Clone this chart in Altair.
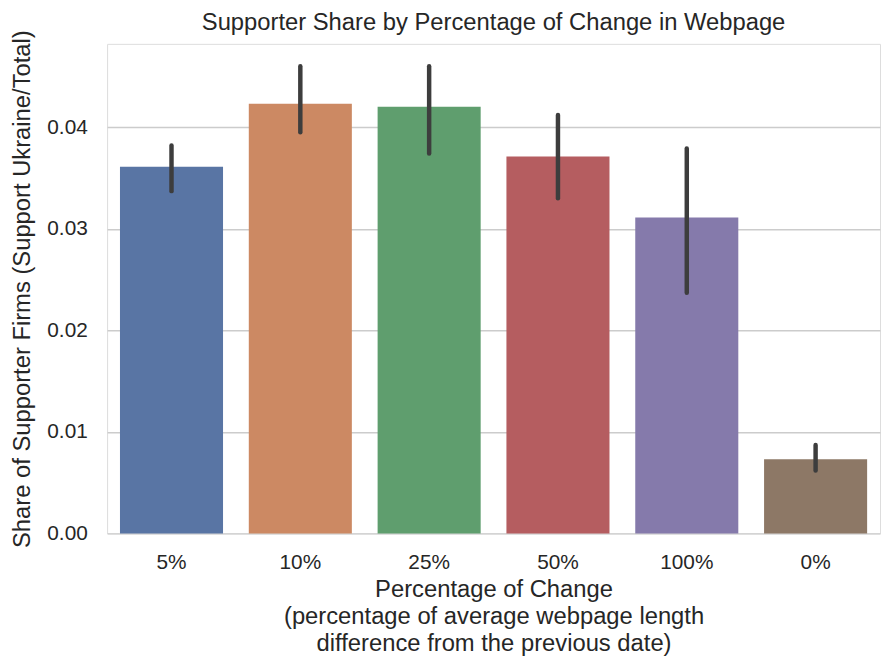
import altair as alt
import pandas as pd

categories = ["5%", "10%", "25%", "50%", "100%", "0%"]
shares = [0.0361, 0.0423, 0.0420, 0.0371, 0.0311, 0.0073]
ci_low = [0.0337, 0.0395, 0.0374, 0.0330, 0.0237, 0.0062]
ci_high = [0.0382, 0.0460, 0.0460, 0.0412, 0.0379, 0.0087]
colors = ["#5975A4", "#CC8963", "#5F9E6E", "#B55D60", "#857AAB", "#8D7866"]

df = pd.DataFrame({"cat": categories, "share": shares, "lo": ci_low, "hi": ci_high})

FONT = "Liberation Sans"
TXT = "#262626"

x = alt.X("cat:N", sort=categories, scale=alt.Scale(paddingInner=0.2, paddingOuter=0.1),
          axis=alt.Axis(title=["Percentage of Change",
                               "(percentage of average webpage length",
                               "difference from the previous date)"],
                        labelAngle=0, ticks=False, domain=False, grid=False,
                        labelFontSize=21, titleFontSize=24, labelPadding=18,
                        titlePadding=6, titleLineHeight=27,
                        labelColor=TXT, titleColor=TXT, labelFont=FONT, titleFont=FONT,
                        titleFontWeight="normal"))

y_scale = alt.Scale(domain=[0, 0.0482], nice=False)

bars = alt.Chart(df).mark_bar().encode(
    x=x,
    y=alt.Y("share:Q", scale=y_scale,
            axis=alt.Axis(title="Share of Supporter Firms (Support Ukraine/Total)",
                          values=[0, 0.01, 0.02, 0.03, 0.04], format=".2f",
                          ticks=False, domain=False, grid=True,
                          gridColor="#CCCCCC", gridWidth=1.5,
                          labelFontSize=21, titleFontSize=24, labelPadding=20,
                          titlePadding=12, labelColor=TXT, titleColor=TXT,
                          labelFont=FONT, titleFont=FONT, titleFontWeight="normal")),
    color=alt.Color("cat:N", sort=categories,
                    scale=alt.Scale(domain=categories, range=colors), legend=None),
)

errs = alt.Chart(df).mark_rule(color="#3D3D3D", strokeWidth=4.5, strokeCap="round").encode(
    x=alt.X("cat:N", sort=categories),
    y=alt.Y("lo:Q", scale=y_scale),
    y2="hi:Q",
)

chart = alt.layer(bars, errs).properties(
    width=780, height=494,
    autosize=alt.AutoSizeParams(type="none"),
    padding={"left": 100, "top": 33, "right": 1, "bottom": 170},
    title=alt.TitleParams("Supporter Share by Percentage of Change in Webpage",
                          fontSize=24, font=FONT, fontWeight="normal", color=TXT,
                          offset=11, dy=16, frame="group"),
).configure_view(stroke="#CCCCCC", strokeWidth=1.5).configure(background="white")

chart.save("out.html", embed_options={"renderer": "svg", "actions": False})
